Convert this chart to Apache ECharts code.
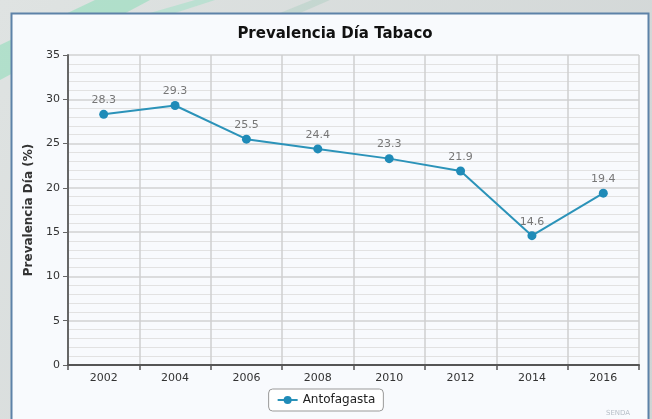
<!DOCTYPE html>
<html>
<head>
<meta charset="utf-8">
<script src="https://cdn.jsdelivr.net/npm/echarts@6/dist/echarts.min.js"></script>
<style>html,body{margin:0;padding:0;background:#d6dada;}#c{width:652px;height:419px;}</style>
</head>
<body>
<div id="c"></div>
<script>
var years = ['2002','2004','2006','2008','2010','2012','2014','2016'];
var antofagasta = [28.3, 29.3, 25.5, 24.4, 23.3, 21.9, 14.6, 19.4];
var titleText = 'Prevalencia Día Tabaco';
var yName = 'Prevalencia Día (%)';
var seriesName = 'Antofagasta';

var chart = echarts.init(document.getElementById('c'));
var font = 'DejaVu Sans, Verdana, sans-serif';
chart.setOption({
  animation: false,
  graphic: [
    {type:'rect', z:-10, shape:{x:0,y:0,width:652,height:419},
     style:{fill:new echarts.graphic.LinearGradient(0,0,1,1,[{offset:0,color:'#dfe3e2'},{offset:1,color:'#cfd4d4'}])}},
    {type:'polygon', z:-9, shape:{points:[[0,45],[0,80],[150,0],[95,0]]}, style:{fill:'rgba(110,220,170,0.4)'}},
    {type:'polygon', z:-9, shape:{points:[[150,13],[175,13],[215,0],[195,0]]}, style:{fill:'rgba(140,225,190,0.4)'}},
    {type:'polygon', z:-9, shape:{points:[[280,13],[300,13],[330,0],[312,0]]}, style:{fill:'rgba(150,200,180,0.3)'}},
    {type:'rect', z:-8, shape:{x:11.5,y:13.5,width:637,height:420},
     style:{fill:'#f8fafd', stroke:'#5d82a8', lineWidth:2}},
    {type:'text', z:5, left:606, top:410, style:{text:'SENDA', fill:'#b8c0c8', font:'7px '+font}}
  ],
  title: {
    text: titleText, left: 330, top: 22, textAlign: 'center',
    textStyle: {fontFamily: font, fontSize: 15, fontWeight: 'bold', color: '#111'}
  },
  legend: {
    data: [seriesName], left: 'center', top: 389, itemWidth: 20, itemHeight: 10,
    borderColor: '#999', borderWidth: 1, borderRadius: 4, backgroundColor: '#fff',
    padding: [5, 8, 5, 8],
    textStyle: {fontFamily: font, fontSize: 12, color: '#222'}
  },
  grid: {left: 68, right: 13, top: 55, bottom: 54},
  xAxis: {
    type: 'category', data: years, boundaryGap: true,
    axisLine: {lineStyle: {color: '#555', width: 2}},
    axisTick: {show: true, length: 5, lineStyle: {color: '#555', width: 1.5}},
    axisLabel: {fontFamily: font, fontSize: 11, color: '#333', margin: 8},
    splitLine: {show: true, lineStyle: {color: '#cfcfcf', width: 1.5}}
  },
  yAxis: {
    type: 'value', min: 0, max: 35, interval: 5,
    name: yName, nameLocation: 'middle', nameGap: 32, nameRotate: 90,
    nameTextStyle: {fontFamily: font, fontSize: 12, fontWeight: 'bold', color: '#333'},
    axisLine: {show: true, lineStyle: {color: '#666', width: 2}},
    axisTick: {show: true, length: 5, lineStyle: {color: '#666'}},
    axisLabel: {fontFamily: font, fontSize: 11, color: '#333', margin: 8},
    splitLine: {show: true, lineStyle: {color: '#d2d2d2', width: 1.5}},
    minorTick: {show: false, splitNumber: 5},
    minorSplitLine: {show: true, lineStyle: {color: '#e2e2e2', width: 1}}
  },
  series: [{
    name: seriesName, type: 'line', data: antofagasta,
    symbol: 'circle', symbolSize: 9,
    lineStyle: {color: '#2b93b9', width: 2},
    itemStyle: {color: '#1f8bb8'},
    label: {show: true, position: 'top', distance: 4, fontFamily: font, fontSize: 11, color: '#777'}
  }]
});
</script>
</body>
</html>
